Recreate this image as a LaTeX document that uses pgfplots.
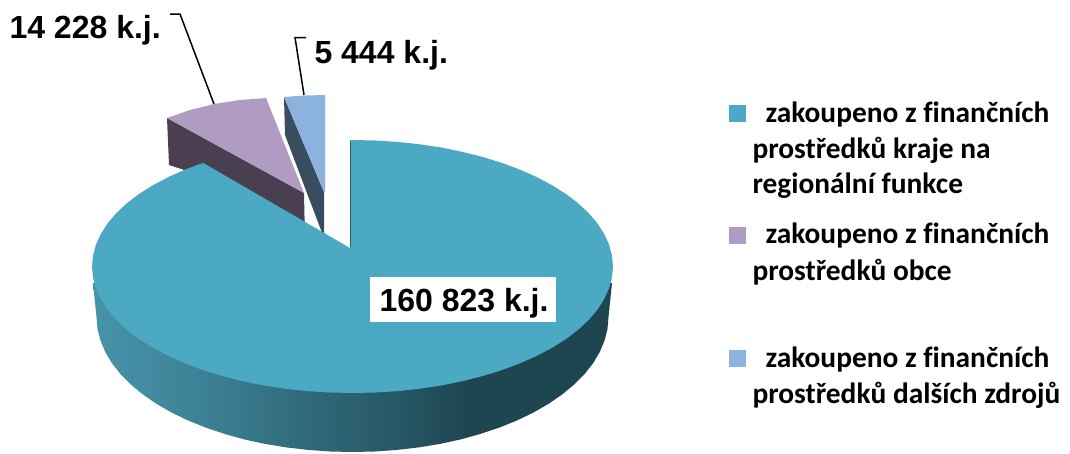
\documentclass[border=0pt]{standalone}
\usepackage{fontspec}
\setmainfont{Liberation Sans}
\newfontfamily\legfont[Ligatures=NoCommon]{Carlito}
\usepackage{pgfplots}
\pgfplotsset{compat=1.18}

\definecolor{teal1}{HTML}{4BA9C4}
\definecolor{purp1}{HTML}{B09CC3}
\definecolor{purp2}{HTML}{4A3F50}
\definecolor{blue1}{HTML}{8CB2DE}
\definecolor{blue2}{HTML}{3A4D60}
\definecolor{sideA}{HTML}{4694A9}
\definecolor{sideB}{HTML}{3E8297}
\definecolor{sideC}{HTML}{306B7C}
\definecolor{sideD}{HTML}{265664}
\definecolor{sideE}{HTML}{1D4650}

% side of the big slice, 25bp..75bp covers the width of the path
\pgfdeclarehorizontalshading{pieside}{100bp}{
  color(0bp)=(sideA);
  color(25bp)=(sideA);
  color(35bp)=(sideB);
  color(45bp)=(sideC);
  color(55bp)=(sideD);
  color(61bp)=(sideE);
  color(100bp)=(sideE)}

\begin{document}
\begin{tikzpicture}
\begin{axis}[
  name=ax,
  scale only axis,
  width=1070pt, height=453pt,
  xmin=0, xmax=1070, ymin=0, ymax=453,
  y dir=reverse,
  hide axis,
  every node/.style={inner sep=0pt, outer sep=0pt}
]

% side wall
\addplot[draw=none, shading=pieside] coordinates {
(612,283) (608.5,317) (607.5,328.8) (604.6,340.4) (599.8,351.9) (593.1,363.2) (584.5,374.1)
(574.2,384.5) (562.2,394.4) (548.6,403.8) (533.5,412.5) (517.1,420.4) (499.3,427.6)
(480.5,433.9) (460.7,439.4) (440.1,443.9) (418.8,447.4) (397.0,449.9) (374.8,451.5)
(352.5,452) (330.2,451.5) (308.0,449.9) (286.2,447.4) (264.9,443.9) (244.3,439.4)
(224.5,433.9) (205.7,427.6) (187.9,420.4) (171.5,412.5) (156.4,403.8) (142.8,394.4)
(130.8,384.5) (120.5,374.1) (111.9,363.2) (105.2,351.9) (100.4,340.4) (97.5,328.8)
(96.5,317) (93,283)
} --cycle;

% small slices
\addplot[draw=none, fill=purp2] coordinates {
(167,118) (304,193) (305,240) (200,175) (169,165)
} --cycle;
\addplot[draw=none, fill=purp1] coordinates {
(167,118) (190,110) (214,104) (240,100) (266,98) (304,193)
} --cycle;
\addplot[draw=none, fill=blue2] coordinates {
(284,97) (324,192) (324,238) (285,135)
} --cycle;
\addplot[draw=none, fill=blue1] coordinates {
(284,97) (305,95.5) (325,95) (325,192) (324,192)
} --cycle;

% top of the big slice
\addplot[draw=none, fill=teal1] coordinates {
(350,140) (352.5,140) (375.2,140.5) (397.7,141.9) (419.9,144.3) (441.6,147.6) (462.6,151.9)
(482.8,157.0) (501.9,162.9) (519.9,169.6) (536.7,177.1) (552.0,185.2) (565.9,193.9)
(578.1,203.2) (588.6,213.0) (597.3,223.2) (604.1,233.8) (609.0,244.5) (612.0,255.5)
(613.0,266.5) (612.0,277.5) (609.0,288.5) (604.1,299.2) (597.3,309.8) (588.6,320.0)
(578.1,329.8) (565.9,339.1) (552.0,347.8) (536.7,355.9) (519.9,363.4) (501.9,370.1)
(482.8,376.0) (462.6,381.1) (441.6,385.4) (419.9,388.7) (397.7,391.1) (375.2,392.5)
(352.5,393.0) (329.8,392.5) (307.3,391.1) (285.1,388.7) (263.4,385.4) (242.4,381.1)
(222.2,376.0) (203.1,370.1) (185.1,363.4) (168.3,355.9) (153.0,347.8) (139.1,339.1)
(126.9,329.8) (116.4,320.0) (107.7,309.8) (100.9,299.2) (96.0,288.5) (93.0,277.5)
(92.0,266.5) (93.0,255.5) (96.0,244.5) (100.9,233.8) (107.7,223.2) (116.4,213.0)
(126.9,203.2) (139.1,193.9) (153.0,185.2) (168.3,177.1) (185.1,169.6) (203.1,162.9)
(350,248)
} --cycle;
\addplot[color=teal1!55!black, line width=0.8pt] coordinates {(350,142) (350,247)};

% leader lines
\addplot[black, line width=1.5pt] coordinates {(170,14) (180,14) (214,104)};
\addplot[black, line width=1.5pt] coordinates {(306,37.5) (295,37.5) (304,95)};

% label background
\addplot[draw=none, fill=white] coordinates {(370,277) (556,277) (556,322) (370,322)} --cycle;

% legend keys
\addplot[draw=none, fill=teal1] coordinates {(729,105) (746,105) (746,122) (729,122)} --cycle;
\addplot[draw=none, fill=purp1] coordinates {(729,227) (746,227) (746,244) (729,244)} --cycle;
\addplot[draw=none, fill=blue1] coordinates {(729,350) (746,350) (746,367) (729,367)} --cycle;

\tikzset{val/.style={anchor=base west, font=\fontsize{32}{36}\selectfont\bfseries},
         leg/.style={anchor=base west, font=\fontsize{29.4}{32}\selectfont\legfont\bfseries}}
\node[val] at (axis cs:6,38) {14 228 k.j.};
\node[val] at (axis cs:311,63) {5 444 k.j.};
\node[val] at (axis cs:376,311) {160 823 k.j.};

\node[leg] at (axis cs:762,122) {zakoupeno z finančních};
\node[leg] at (axis cs:749,158) {prostředků kraje na};
\node[leg] at (axis cs:749,193) {regionální funkce};
\node[leg] at (axis cs:762,243) {zakoupeno z finančních};
\node[leg] at (axis cs:749,280) {prostředků obce};
\node[leg] at (axis cs:762,367) {zakoupeno z finančních};
\node[leg] at (axis cs:749,403) {prostředků dalších zdrojů};

\end{axis}
\path (ax.south west) rectangle (ax.north east);
\end{tikzpicture}
\end{document}
